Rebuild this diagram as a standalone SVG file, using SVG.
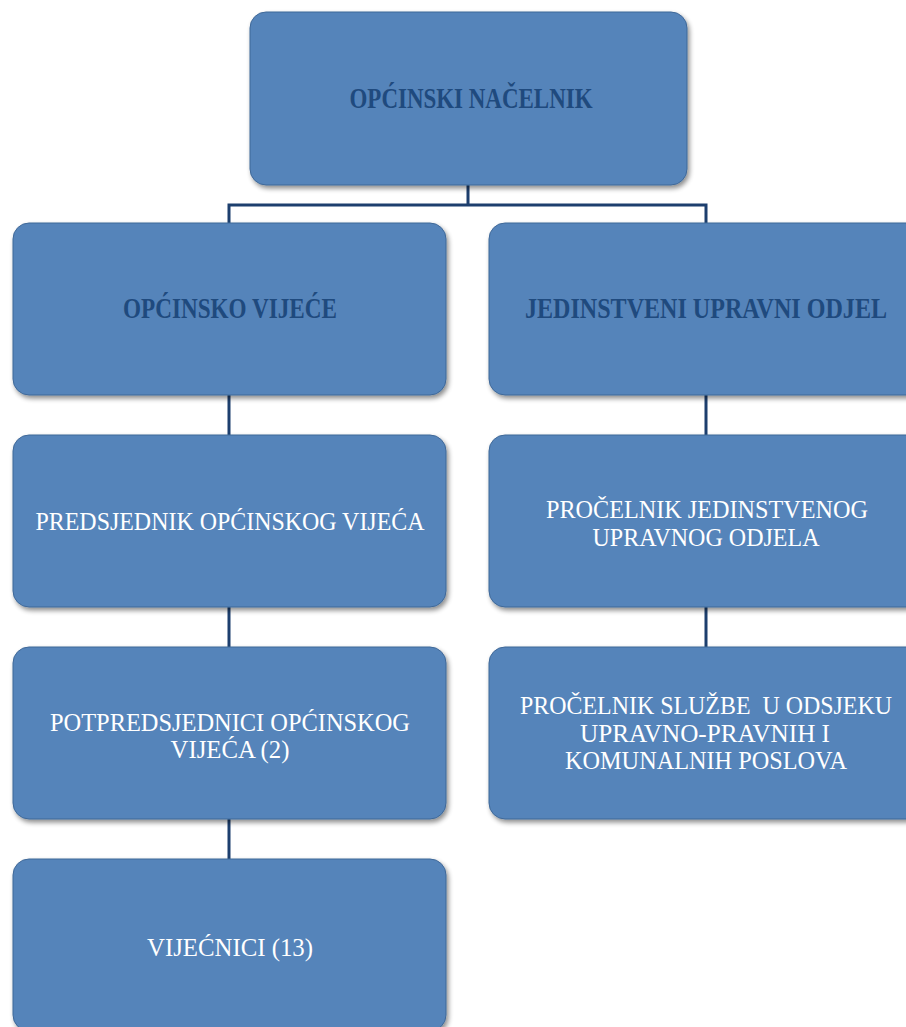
<svg xmlns="http://www.w3.org/2000/svg" width="906" height="1027" viewBox="0 0 906 1027">
<defs>
<filter id="sh" x="-10%" y="-10%" width="125%" height="130%">
<feGaussianBlur in="SourceAlpha" stdDeviation="2.5"/>
<feOffset dx="1.5" dy="3" result="b"/>
<feComponentTransfer><feFuncA type="linear" slope="0.45"/></feComponentTransfer>
<feMerge><feMergeNode/><feMergeNode in="SourceGraphic"/></feMerge>
</filter>
</defs>
<style>
.box{fill:#5584BA;stroke:#3F6898;stroke-width:1;filter:url(#sh)}
.t{font-family:"Liberation Serif","DejaVu Serif",serif;font-weight:bold;font-size:29px;fill:#1F4A7E;text-anchor:middle}
.b{font-family:"Liberation Serif","DejaVu Serif",serif;font-size:25px;fill:#FFFFFF;text-anchor:middle;white-space:pre}
.c{fill:none;stroke:#1D3F6E;stroke-width:3}
</style>
<g id="connectors">
<path class="c" d="M468,185 V205 M229,223 V205 H706 V223"/>
<path class="c" d="M229,395 V435 M229,607 V647 M229,819 V859"/>
<path class="c" d="M706,395 V435 M706,607 V647"/>
</g>
<g id="n-nacelnik">
<rect class="box" x="250" y="12" width="437" height="173" rx="16"/>
<text class="t" x="471" y="108" textLength="243" lengthAdjust="spacingAndGlyphs">OPĆINSKI NAČELNIK</text>
</g>
<g id="n-vijece">
<rect class="box" x="13" y="223" width="433" height="172" rx="16"/>
<text class="t" x="230" y="318" textLength="214" lengthAdjust="spacingAndGlyphs">OPĆINSKO VIJEĆE</text>
</g>
<g id="n-odjel">
<rect class="box" x="489" y="223" width="434" height="172" rx="16"/>
<text class="t" x="706" y="318" textLength="362" lengthAdjust="spacingAndGlyphs">JEDINSTVENI UPRAVNI ODJEL</text>
</g>
<g id="n-predsjednik">
<rect class="box" x="13" y="435" width="433" height="172" rx="16"/>
<text class="b" x="230" y="530" textLength="389" lengthAdjust="spacingAndGlyphs">PREDSJEDNIK OPĆINSKOG VIJEĆA</text>
</g>
<g id="n-procelnik">
<rect class="box" x="489" y="435" width="434" height="172" rx="16"/>
<text class="b" x="707" y="518" textLength="322" lengthAdjust="spacingAndGlyphs">PROČELNIK JEDINSTVENOG</text>
<text class="b" x="706" y="546" textLength="227" lengthAdjust="spacingAndGlyphs">UPRAVNOG ODJELA</text>
</g>
<g id="n-potpredsjednici">
<rect class="box" x="13" y="647" width="433" height="172" rx="16"/>
<text class="b" x="230" y="731" textLength="360" lengthAdjust="spacingAndGlyphs">POTPREDSJEDNICI OPĆINSKOG</text>
<text class="b" x="230" y="758" textLength="119" lengthAdjust="spacingAndGlyphs">VIJEĆA (2)</text>
</g>
<g id="n-sluzba">
<rect class="box" x="489" y="647" width="434" height="172" rx="16"/>
<text class="b" x="706" y="714" textLength="372" lengthAdjust="spacingAndGlyphs">PROČELNIK SLUŽBE  U ODSJEKU</text>
<text class="b" x="705" y="742" textLength="250" lengthAdjust="spacingAndGlyphs">UPRAVNO-PRAVNIH I</text>
<text class="b" x="706" y="769" textLength="282" lengthAdjust="spacingAndGlyphs">KOMUNALNIH POSLOVA</text>
</g>
<g id="n-vijecnici">
<rect class="box" x="13" y="859" width="433" height="172" rx="16"/>
<text class="b" x="230" y="956" textLength="166" lengthAdjust="spacingAndGlyphs">VIJEĆNICI (13)</text>
</g>
</svg>
